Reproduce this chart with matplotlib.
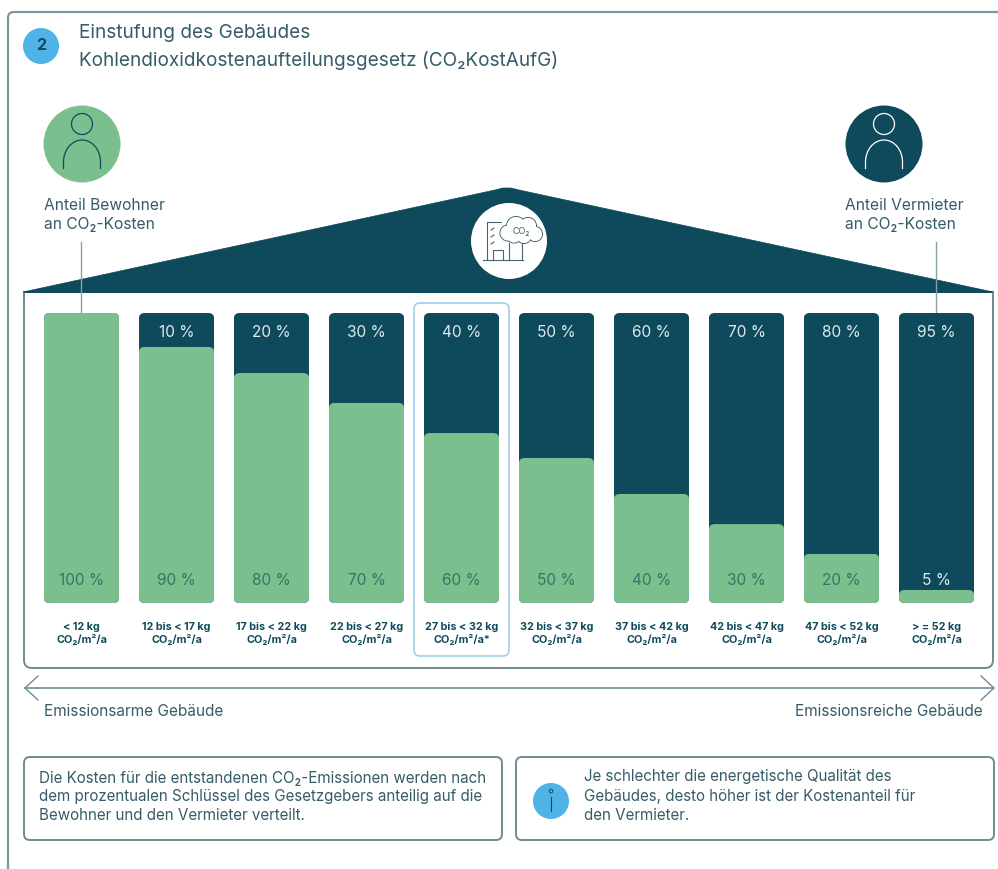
import matplotlib
matplotlib.use('Agg')
import matplotlib.pyplot as plt
from matplotlib.patches import Circle, FancyBboxPatch, Polygon, Arc

plt.rcParams['font.family'] = ['Inter', 'DejaVu Sans']

DARK = '#0e4a5c'
GREEN = '#7cbf8e'
BLUE = '#4fb3e8'
TEXT = '#355c68'
LINE = '#6f8a92'

# values
classes = ['< 12 kg', '12 bis < 17 kg', '17 bis < 22 kg', '22 bis < 27 kg', '27 bis < 32 kg',
           '32 bis < 37 kg', '37 bis < 42 kg', '42 bis < 47 kg', '47 bis < 52 kg', '> = 52 kg']
units = ['CO₂/m²/a'] * 4 + ['CO₂/m²/a*'] + ['CO₂/m²/a'] * 5
tenant_label = [100, 90, 80, 70, 60, 50, 40, 30, 20, 5]
landlord_label = [0, 10, 20, 30, 40, 50, 60, 70, 80, 95]
# green height as drawn in the picture, not quite the same as the label
tenant_drawn = [100, 88.3, 79.3, 69, 58.6, 50, 37.6, 27.2, 17, 4.5]


def px(size):
    return size * 0.72


fig = plt.figure(figsize=(9.98, 8.69), dpi=100, facecolor='white')

# whole figure in pixel coords for the decoration
bg = fig.add_axes([0, 0, 1, 1])
bg.set_xlim(0, 998)
bg.set_ylim(869, 0)
bg.axis('off')


def box(x0, y0, x1, y1, color=LINE, r=6, lw=1.4, z=2):
    p = FancyBboxPatch((x0, y0), x1 - x0, y1 - y0, boxstyle='round,pad=0,rounding_size=%g' % r,
                       fc='none', ec=color, lw=lw, zorder=z)
    bg.add_patch(p)


def label(x, y, s, size=13, **kw):
    kw.setdefault('color', TEXT)
    kw.setdefault('va', 'center')
    bg.text(x, y, s, fontsize=px(size), **kw)


# outer frame runs off the right and bottom
box(8, 12, 1200, 1100, color='#7d979e', r=6, lw=1.6)

# header
bg.add_patch(Circle((41, 46), 18, fc=BLUE, ec='none'))
label(41, 46, '2', size=16, ha='center', color=DARK, fontweight='bold')
label(79, 33, 'Einstufung des Gebäudes', size=19)
label(79, 60, 'Kohlendioxidkostenaufteilungsgesetz (CO₂KostAufG)', size=19)

# people
for cx, fill, stroke in [(82, GREEN, DARK), (884, DARK, 'white')]:
    bg.add_patch(Circle((cx, 144), 38.5, fc=fill, ec='none'))
    bg.add_patch(Circle((cx, 124), 10.5, fc='none', ec=stroke, lw=0.9))
    bg.add_patch(Arc((cx, 162), 37, 44, theta1=180, theta2=360, ec=stroke, lw=0.9))
    bg.plot([cx - 18.5, cx - 18.5], [162, 168], color=stroke, lw=0.9)
    bg.plot([cx + 18.5, cx + 18.5], [162, 168], color=stroke, lw=0.9)

label(44, 205, 'Anteil Bewohner', size=15.6)
label(44, 225, 'an CO₂-Kosten', size=15.6)
label(845, 205, 'Anteil Vermieter', size=15.6)
label(845, 225, 'an CO₂-Kosten', size=15.6)

# frame under the roof, the top is hidden behind a white strip
box(24, 250, 993, 668, color=LINE, r=8, lw=1.4, z=1)
bg.add_patch(Polygon([(10, 240), (1000, 240), (1000, 291), (10, 291)], fc='white', ec='none', zorder=1.5))
bg.plot([24, 993], [292, 292], color=DARK, lw=1.4, zorder=2)
bg.plot([24, 24], [292, 300], color=LINE, lw=1.4, zorder=2)
bg.plot([993, 993], [292, 300], color=LINE, lw=1.4, zorder=2)

# roof
bg.add_patch(Polygon([(23, 292), (495, 190), (503, 188), (511, 188), (519, 190), (993, 292)],
                     closed=True, fc=DARK, ec=DARK, lw=0.5, zorder=2))

# leader lines
bg.plot([81, 81], [242, 314], color='#8aa0a6', lw=1, zorder=3)
bg.plot([936, 936], [242, 314], color='#8aa0a6', lw=1, zorder=3)

# icon in the roof
bg.add_patch(Circle((509, 241), 38, fc='white', ec='none', zorder=4))
ic = '#47656f'
bg.plot([487, 487, 501], [260, 222, 222], color=ic, lw=0.8, zorder=5)
bg.plot([483, 523], [260, 260], color=ic, lw=0.8, zorder=5)
bg.plot([493, 493, 503, 503], [260, 250, 250, 260], color=ic, lw=0.8, zorder=5)
bg.plot([509, 509], [243, 260], color=ic, lw=0.8, zorder=5)
bg.plot([522, 522], [243, 260], color=ic, lw=0.8, zorder=5)
for yy in [229, 236, 243]:
    bg.plot([491, 494], [yy + 1, yy - 1], color=ic, lw=0.8, zorder=5)
cloud = [(508, 233, 8), (516, 226, 9.5), (528, 226, 8.5), (535, 234, 7.5), (524, 236, 7.5), (514, 236, 7)]
for cx, cy, r in cloud:
    bg.add_patch(Circle((cx, cy), r, fc='white', ec=ic, lw=0.8, zorder=5))
for cx, cy, r in cloud:
    bg.add_patch(Circle((cx, cy), r - 0.5, fc='white', ec='none', zorder=6))
label(521, 232, 'CO₂', size=9, ha='center', color=ic, zorder=7)

# highlighted class
box(414, 303, 509, 656, color='#9fd0ec', r=6, lw=1.2)

# arrow
bg.plot([25, 993], [688, 688], color=LINE, lw=1.2)
bg.plot([38, 25, 38], [676, 688, 700], color=LINE, lw=1.0)
bg.plot([981, 994, 981], [676, 688, 700], color=LINE, lw=1.0)
label(44, 712, 'Emissionsarme Gebäude', size=15.4)
label(983, 712, 'Emissionsreiche Gebäude', size=15.4, ha='right')

# bottom notes
box(24, 757, 502, 840)
box(516, 757, 994, 840)
label(39, 778, 'Die Kosten für die entstandenen CO₂-Emissionen werden nach', size=15.15)
label(39, 796, 'dem prozentualen Schlüssel des Gesetzgebers anteilig auf die', size=15.15)
label(39, 815, 'Bewohner und den Vermieter verteilt.', size=15.15)
label(584, 777, 'Je schlechter die energetische Qualität des', size=15.15)
label(584, 796, 'Gebäudes, desto höher ist der Kostenanteil für', size=15.15)
label(584, 815, 'den Vermieter.', size=15.15)
bg.add_patch(Circle((551, 801), 18, fc=BLUE, ec='none'))
bg.add_patch(Circle((551, 791), 1.8, fc='none', ec=DARK, lw=0.7))
bg.plot([551, 551], [797, 811], color=DARK, lw=0.8)

# bars: x -0.5..9.5 = 34..984 px, y 0..100 = 603..313 px
ax = fig.add_axes([34 / 998, (869 - 603) / 869, 950 / 998, 290 / 869])
ax.patch.set_alpha(0)
ax.set_xlim(-0.5, 9.5)
ax.set_ylim(0, 100)
for s in ax.spines.values():
    s.set_visible(False)
ax.set_yticks([])

x = list(range(len(classes)))
width = 0.795
rad = 6 / 95
aspect = (6 * 100 / 290) / rad


def round_off(bars):
    for b in bars:
        clip = FancyBboxPatch((b.get_x(), b.get_y()), b.get_width(), b.get_height(),
                              boxstyle='round,pad=0,rounding_size=%g' % rad,
                              mutation_aspect=aspect, transform=ax.transData)
        b.set_clip_path(clip)


round_off(ax.bar(x, [100] * len(x), width=width, color=DARK))
round_off(ax.bar(x, tenant_drawn, width=width, color=GREEN))

for i in x:
    if landlord_label[i]:
        ax.text(i, 93.4, '%d %%' % landlord_label[i], ha='center', va='center',
                color='#dfe9ea', fontsize=px(15.5))
    ax.text(i, 7.6, '%d %%' % tenant_label[i], ha='center', va='center',
            color='#dfe9ea' if tenant_drawn[i] < 7.6 else '#2c7a66', fontsize=px(15.5))

ax.set_xticks(x, [c + '\n' + u for c, u in zip(classes, units)])
ax.tick_params(axis='x', length=0, pad=13.5, labelsize=px(10.8), labelcolor=DARK)
for t in ax.get_xticklabels():
    t.set_fontweight('bold')
    t.set_linespacing(1.25)

fig.savefig('out.png', dpi=100, facecolor='white')
